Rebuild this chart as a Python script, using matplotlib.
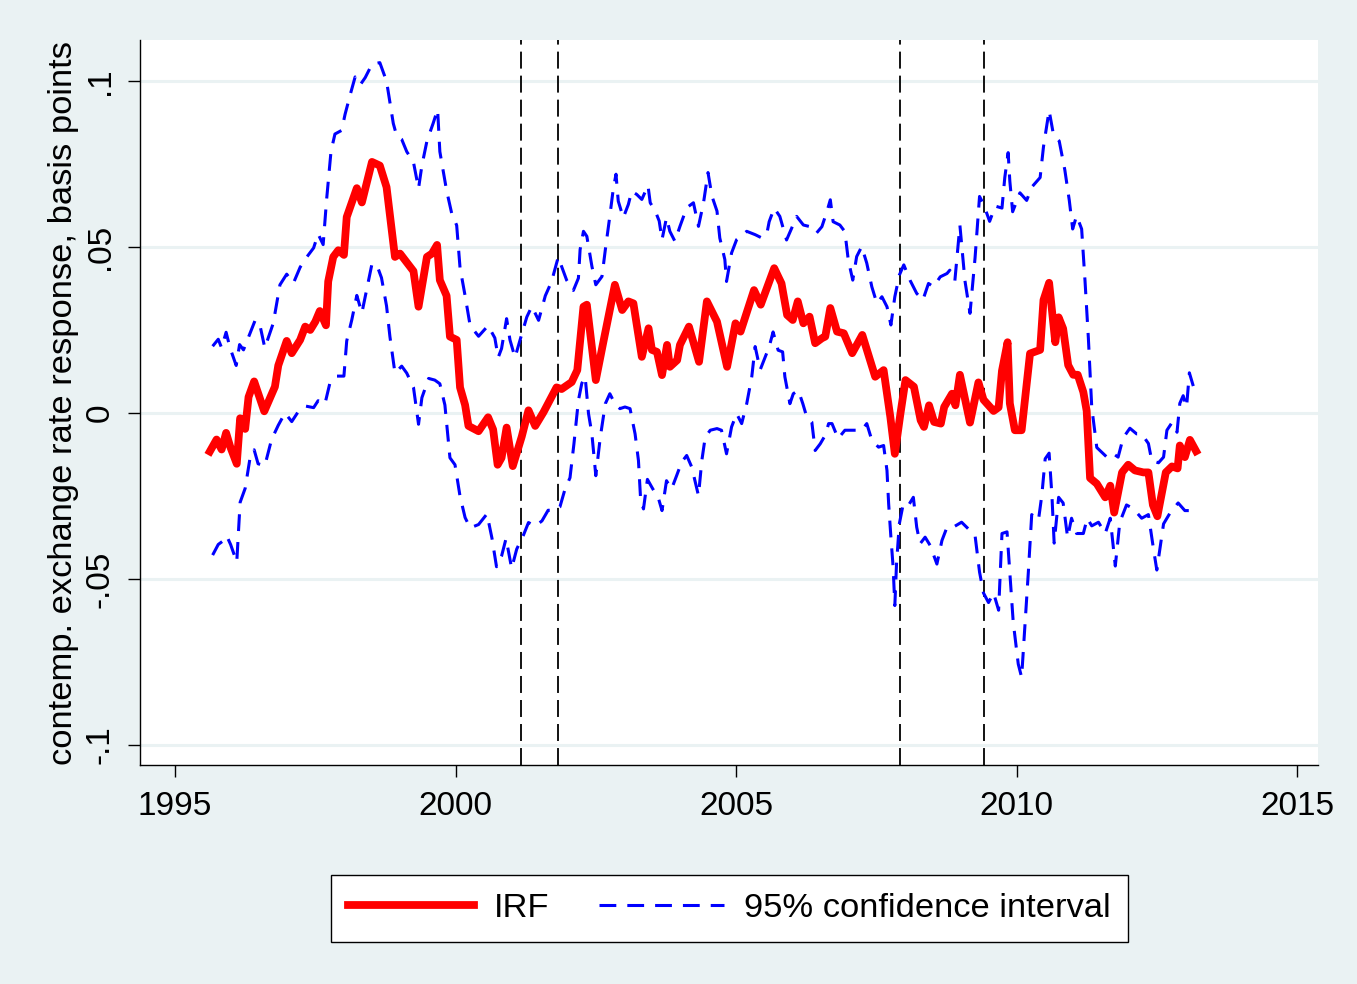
import matplotlib.pyplot as plt

# === Data ===
irf_year = [1995.62, 1995.74, 1995.83, 1995.91, 1995.98, 1996.10, 1996.16, 1996.25, 1996.31, 1996.41,
            1996.59, 1996.78, 1996.84, 1996.99, 1997.08, 1997.23, 1997.32, 1997.41, 1997.50, 1997.58,
            1997.69, 1997.73, 1997.82, 1997.91, 1998.01, 1998.06, 1998.24, 1998.33, 1998.51, 1998.65,
            1998.77, 1998.92, 1999.01, 1999.25, 1999.34, 1999.49, 1999.58, 1999.67, 1999.72, 1999.84,
            1999.90, 2000.02, 2000.08, 2000.17, 2000.23, 2000.41, 2000.58, 2000.67, 2000.75, 2000.82,
            2000.91, 2001.02, 2001.18, 2001.30, 2001.42, 2001.57, 2001.80, 2001.89, 2002.07, 2002.17,
            2002.28, 2002.34, 2002.50, 2002.63, 2002.84, 2002.97, 2003.08, 2003.17, 2003.32, 2003.44,
            2003.50, 2003.59, 2003.68, 2003.77, 2003.82, 2003.95, 2004.00, 2004.16, 2004.34, 2004.48,
            2004.66, 2004.84, 2004.99, 2005.08, 2005.32, 2005.44, 2005.68, 2005.81, 2005.91, 2006.01,
            2006.10, 2006.20, 2006.31, 2006.41, 2006.53, 2006.59, 2006.68, 2006.80, 2006.92, 2007.07,
            2007.25, 2007.48, 2007.63, 2007.75, 2007.83, 2007.93, 2008.02, 2008.17, 2008.29, 2008.35,
            2008.44, 2008.53, 2008.65, 2008.71, 2008.85, 2008.91, 2008.99, 2009.17, 2009.32, 2009.41,
            2009.59, 2009.68, 2009.74, 2009.84, 2009.88, 2009.97, 2010.09, 2010.24, 2010.42, 2010.48,
            2010.58, 2010.69, 2010.75, 2010.83, 2010.92, 2011.01, 2011.09, 2011.19, 2011.25, 2011.31,
            2011.43, 2011.58, 2011.67, 2011.74, 2011.88, 2011.99, 2012.11, 2012.26, 2012.35, 2012.43,
            2012.51, 2012.66, 2012.77, 2012.87, 2012.91, 2013.00, 2013.09, 2013.20]
irf = [-0.0116, -0.008, -0.011, -0.006, -0.010, -0.0153, -0.0016, -0.0048, 0.0048, 0.0095,
       0.0005, 0.0079, 0.0143, 0.0217, 0.018, 0.022, 0.026, 0.025, 0.0275, 0.0307,
       0.0264, 0.0396, 0.047, 0.049, 0.0476, 0.059, 0.0677, 0.0634, 0.0756, 0.0745,
       0.068, 0.047, 0.048, 0.0427, 0.032, 0.047, 0.048, 0.0506, 0.040, 0.0353,
       0.023, 0.022, 0.0077, 0.0024, -0.0039, -0.0055, -0.0013, -0.005, -0.0156, -0.0135,
       -0.0044, -0.016, -0.0071, 0.0008, -0.0039, 0.0003, 0.0077, 0.0072, 0.0093, 0.0129,
       0.032, 0.0326, 0.0099, 0.021, 0.0386, 0.031, 0.0336, 0.033, 0.0169, 0.0255,
       0.019, 0.0184, 0.0114, 0.0205, 0.0139, 0.0159, 0.0205, 0.026, 0.0154, 0.0336,
       0.0275, 0.0139, 0.027, 0.0245, 0.037, 0.0326, 0.0436, 0.039, 0.0295, 0.028,
       0.0336, 0.027, 0.029, 0.021, 0.0225, 0.023, 0.0316, 0.0245, 0.024, 0.018,
       0.0235, 0.0109, 0.0129, -0.0012, -0.0123, -0.0002, 0.0099, 0.0079, -0.0022, -0.0042,
       0.0023, -0.0027, -0.0032, 0.0018, 0.0058, 0.0023, 0.0115, -0.0029, 0.0092, 0.004,
       0.0006, 0.0017, 0.0127, 0.0213, 0.0029, -0.0052, -0.0052, 0.0179, 0.019, 0.034,
       0.0392, 0.0213, 0.0288, 0.0254, 0.0144, 0.0115, 0.0115, 0.0063, 0.0006, -0.0196,
       -0.0213, -0.0254, -0.0219, -0.030, -0.0179, -0.0156, -0.0173, -0.0179, -0.0179, -0.0277,
       -0.0311, -0.0179, -0.0161, -0.0167, -0.0098, -0.0133, -0.0081, -0.0115]

ci_up_year = [1995.67, 1995.77, 1995.83, 1995.91, 1995.98, 1996.09, 1996.15, 1996.22, 1996.32, 1996.43,
              1996.52, 1996.60, 1996.75, 1996.87, 1996.99, 1997.11, 1997.23, 1997.35, 1997.47, 1997.55,
              1997.64, 1997.70, 1997.78, 1997.85, 1997.97, 1998.03, 1998.12, 1998.21, 1998.30, 1998.39,
              1998.51, 1998.65, 1998.77, 1998.89, 1998.95, 1999.04, 1999.13, 1999.25, 1999.34, 1999.40,
              1999.49, 1999.60, 1999.68, 1999.72, 1999.84, 1999.93, 2000.02, 2000.08, 2000.17, 2000.26,
              2000.41, 2000.58, 2000.70, 2000.76, 2000.82, 2000.91, 2000.97, 2001.06, 2001.15, 2001.27,
              2001.36, 2001.48, 2001.60, 2001.71, 2001.83, 2001.98, 2002.10, 2002.19, 2002.22, 2002.28,
              2002.34, 2002.43, 2002.50, 2002.61, 2002.67, 2002.75, 2002.81, 2002.86, 2002.90, 2002.99,
              2003.08, 2003.14, 2003.23, 2003.32, 2003.43, 2003.47, 2003.56, 2003.63, 2003.68, 2003.76,
              2003.82, 2003.91, 2004.00, 2004.12, 2004.24, 2004.33, 2004.42, 2004.50, 2004.57, 2004.66,
              2004.71, 2004.80, 2004.83, 2004.92, 2005.01, 2005.19, 2005.34, 2005.46, 2005.55, 2005.59,
              2005.68, 2005.78, 2005.90, 2005.99, 2006.08, 2006.20, 2006.32, 2006.43, 2006.53, 2006.62,
              2006.68, 2006.73, 2006.85, 2006.94, 2007.00, 2007.08, 2007.15, 2007.24, 2007.33, 2007.42,
              2007.51, 2007.60, 2007.69, 2007.76, 2007.83, 2007.91, 2007.99, 2008.10, 2008.22, 2008.33,
              2008.43, 2008.52, 2008.64, 2008.76, 2008.81, 2008.90, 2008.99, 2009.08, 2009.17, 2009.26,
              2009.34, 2009.41, 2009.52, 2009.62, 2009.74, 2009.79, 2009.85, 2009.88, 2009.93, 2010.06,
              2010.18, 2010.27, 2010.42, 2010.48, 2010.58, 2010.66, 2010.76, 2010.86, 2010.94, 2011.00,
              2011.07, 2011.16, 2011.22, 2011.28, 2011.34, 2011.43, 2011.61, 2011.71, 2011.81, 2011.90,
              2012.02, 2012.14, 2012.23, 2012.35, 2012.41, 2012.53, 2012.62, 2012.68, 2012.77, 2012.86,
              2012.91, 2012.97, 2013.03, 2013.08, 2013.15]
ci_up = [0.0201, 0.0222, 0.0196, 0.0243, 0.0196, 0.0143, 0.0206, 0.019, 0.0233, 0.028,
         0.0259, 0.0196, 0.027, 0.0386, 0.0418, 0.0391, 0.0439, 0.047, 0.0497, 0.0539,
         0.0507, 0.064, 0.0788, 0.084, 0.0851, 0.0899, 0.0957, 0.1012, 0.0988, 0.101,
         0.105, 0.1055, 0.0999, 0.0872, 0.0835, 0.0824, 0.0787, 0.0755, 0.0676, 0.0745,
         0.0819, 0.0872, 0.0914, 0.0787, 0.067, 0.0602, 0.0565, 0.0437, 0.0353, 0.0263,
         0.0231, 0.0263, 0.0226, 0.0167, 0.0194, 0.0284, 0.022, 0.0167, 0.022, 0.0289,
         0.0321, 0.0279, 0.0353, 0.0395, 0.0469, 0.040, 0.0369, 0.0406, 0.0492, 0.0547,
         0.0532, 0.0442, 0.0386, 0.0411, 0.0492, 0.0593, 0.0673, 0.0719, 0.0638, 0.0588,
         0.0628, 0.0668, 0.0658, 0.0643, 0.0685, 0.0633, 0.0608, 0.0578, 0.0522, 0.0588,
         0.0547, 0.0517, 0.0562, 0.0618, 0.0633, 0.0562, 0.0633, 0.0724, 0.0653, 0.0608,
         0.0527, 0.0462, 0.0396, 0.0482, 0.0522, 0.0547, 0.0537, 0.0527, 0.0541, 0.0576,
         0.0617, 0.0592, 0.0521, 0.0556, 0.0592, 0.0566, 0.0561, 0.0541, 0.0561, 0.0607,
         0.0642, 0.0576, 0.0566, 0.0546, 0.0461, 0.040, 0.0471, 0.0501, 0.0451, 0.038,
         0.033, 0.035, 0.032, 0.0265, 0.035, 0.0415, 0.0446, 0.040, 0.036, 0.034,
         0.039, 0.038, 0.041, 0.042, 0.043, 0.0398, 0.0565, 0.0398, 0.030, 0.0467,
         0.0652, 0.0629, 0.0577, 0.0623, 0.0617, 0.0709, 0.0784, 0.0698, 0.0606, 0.0663,
         0.064, 0.068, 0.0709, 0.0802, 0.0911, 0.0836, 0.0819, 0.0732, 0.064, 0.0554,
         0.0594, 0.0554, 0.0398, 0.0225, 0.0017, -0.0104, -0.0133, -0.0121, -0.0133, -0.0075,
         -0.0046, -0.0063, -0.0063, -0.0092, -0.0144, -0.015, -0.0133, -0.0052, -0.0029, -0.0058,
         0.0029, 0.0052, 0.0017, 0.0121, 0.0081]

ci_lo_year = [1995.67, 1995.77, 1995.85, 1995.92, 1995.99, 1996.10, 1996.16, 1996.25, 1996.34, 1996.41,
              1996.48, 1996.60, 1996.72, 1996.84, 1996.96, 1997.08, 1997.20, 1997.32, 1997.47, 1997.55,
              1997.67, 1997.76, 1997.88, 1998.01, 1998.06, 1998.15, 1998.24, 1998.33, 1998.42, 1998.51,
              1998.60, 1998.68, 1998.77, 1998.83, 1998.92, 1999.04, 1999.13, 1999.25, 1999.34, 1999.40,
              1999.52, 1999.63, 1999.72, 1999.81, 1999.90, 1999.99, 2000.08, 2000.17, 2000.26, 2000.41,
              2000.56, 2000.65, 2000.73, 2000.82, 2000.90, 2001.00, 2001.09, 2001.21, 2001.30, 2001.42,
              2001.54, 2001.65, 2001.77, 2001.86, 2001.95, 2002.04, 2002.11, 2002.19, 2002.25, 2002.31,
              2002.37, 2002.43, 2002.50, 2002.58, 2002.67, 2002.75, 2002.84, 2002.93, 2003.02, 2003.11,
              2003.20, 2003.26, 2003.30, 2003.35, 2003.42, 2003.50, 2003.62, 2003.68, 2003.76, 2003.85,
              2003.94, 2004.03, 2004.12, 2004.21, 2004.33, 2004.39, 2004.45, 2004.54, 2004.66, 2004.74,
              2004.83, 2004.92, 2005.01, 2005.10, 2005.19, 2005.28, 2005.34, 2005.43, 2005.52, 2005.59,
              2005.66, 2005.75, 2005.83, 2005.87, 2005.96, 2006.02, 2006.11, 2006.19, 2006.26, 2006.35,
              2006.41, 2006.50, 2006.59, 2006.65, 2006.71, 2006.82, 2006.94, 2007.12, 2007.24, 2007.33,
              2007.42, 2007.54, 2007.63, 2007.69, 2007.72, 2007.76, 2007.80, 2007.83, 2007.86, 2007.91,
              2007.98, 2008.07, 2008.16, 2008.22, 2008.28, 2008.37, 2008.46, 2008.58, 2008.67, 2008.76,
              2008.87, 2009.02, 2009.26, 2009.34, 2009.41, 2009.50, 2009.59, 2009.68, 2009.74, 2009.83,
              2009.88, 2009.94, 2010.03, 2010.09, 2010.15, 2010.21, 2010.27, 2010.39, 2010.45, 2010.51,
              2010.58, 2010.63, 2010.67, 2010.75, 2010.83, 2010.91, 2010.98, 2011.07, 2011.19, 2011.26,
              2011.34, 2011.46, 2011.58, 2011.67, 2011.76, 2011.84, 2011.96, 2012.08, 2012.23, 2012.35,
              2012.44, 2012.50, 2012.62, 2012.74, 2012.88, 2013.00, 2013.15]
ci_lo = [-0.0428, -0.0396, -0.0386, -0.037, -0.0396, -0.0449, -0.0269, -0.0227, -0.0132, -0.0111,
         -0.0153, -0.0159, -0.008, -0.0037, 0.0, -0.0026, 0.0005, 0.0021, 0.0016, 0.0037,
         0.0026, 0.009, 0.0111, 0.0111, 0.0217, 0.028, 0.0354, 0.0301, 0.0375, 0.0449,
         0.0444, 0.0407, 0.0322, 0.023, 0.012, 0.0141, 0.012, 0.0077, -0.0034, 0.0046,
         0.0104, 0.0099, 0.0088, 0.0024, -0.0135, -0.0156, -0.0251, -0.0315, -0.0346, -0.0336,
         -0.0304, -0.0378, -0.0463, -0.0431, -0.0378, -0.0468, -0.041, -0.0368, -0.033, -0.0341,
         -0.0325, -0.0293, -0.0293, -0.0283, -0.023, -0.0195, -0.0093, 0.0038, 0.0089, 0.0109,
         -0.0002, -0.0063, -0.0189, -0.0073, 0.0028, 0.0058, 0.0028, 0.0013, 0.0018, 0.0013,
         -0.0063, -0.0143, -0.0264, -0.0289, -0.020, -0.0224, -0.0259, -0.0294, -0.0204, -0.0229,
         -0.0189, -0.0148, -0.0128, -0.0163, -0.0249, -0.0143, -0.0073, -0.0052, -0.0047, -0.0052,
         -0.0123, -0.0042, -0.0002, -0.0032, 0.0028, 0.0109, 0.020, 0.013, 0.0169, 0.0199,
         0.0244, 0.0189, 0.0184, 0.0109, 0.0028, 0.0058, 0.0068, 0.0028, -0.0012, -0.0027,
         -0.0113, -0.0093, -0.0067, -0.0032, -0.0032, -0.0077, -0.0052, -0.0052, -0.0052, -0.0032,
         -0.0082, -0.0103, -0.0098, -0.0173, -0.0274, -0.0374, -0.0465, -0.058, -0.0455, -0.0334,
         -0.0274, -0.0279, -0.0254, -0.0344, -0.0394, -0.0374, -0.0399, -0.0455, -0.0384, -0.0344,
         -0.0344, -0.0329, -0.0369, -0.0479, -0.0542, -0.0571, -0.0542, -0.0594, -0.0363, -0.0358,
         -0.0479, -0.0629, -0.0756, -0.0796, -0.064, -0.0479, -0.0306, -0.0323, -0.0248, -0.0138,
         -0.0121, -0.0248, -0.0392, -0.0254, -0.0271, -0.0375, -0.0317, -0.0363, -0.0363, -0.0317,
         -0.034, -0.0329, -0.0363, -0.0317, -0.0461, -0.0329, -0.0277, -0.0288, -0.0317, -0.0306,
         -0.0409, -0.0473, -0.0334, -0.030, -0.0271, -0.0294, -0.0294]

# NBER recession start/end dates (2001m3, 2001m11, 2007m12, 2009m6)
recession_lines = [2001.17, 2001.83, 2007.92, 2009.42]

x_ticks = [1995, 2000, 2005, 2010, 2015]
y_ticks = [-0.1, -0.05, 0, 0.05, 0.1]
y_tick_labels = ['-.1', '-.05', '0', '.05', '.1']

# === Style ===
bg = '#EAF2F3'
plt.rcParams['font.family'] = ['Liberation Sans', 'DejaVu Sans']
plt.rcParams['font.size'] = 24

fig = plt.figure(figsize=(13.57, 9.84), dpi=100, facecolor=bg)
ax = fig.add_axes([0.1032, 0.2226, 0.8681, 0.7367])
ax.set_facecolor('white')

# gridlines
for yt in y_ticks:
    ax.axhline(yt, color=bg, lw=2.2, zorder=0)

for xr in recession_lines:
    ax.axvline(xr, color='black', lw=1.3, dashes=(9.4, 3.9), zorder=1)

ax.plot(ci_up_year, ci_up, color='#0000FF', lw=2.2, dashes=(5.5, 3.6), zorder=2,
        label='95% confidence interval')
ax.plot(ci_lo_year, ci_lo, color='#0000FF', lw=2.2, dashes=(5.5, 3.6), zorder=2)
ax.plot(irf_year, irf, color='#FF0000', lw=5.6, zorder=3, label='IRF',
        solid_joinstyle='round')

ax.set_xlim(1994.376, 2015.374)
ax.set_ylim(-0.106, 0.1123)
ax.set_xticks(x_ticks)
ax.set_yticks(y_ticks)
ax.set_yticklabels(y_tick_labels, rotation=90, va='center')
ax.tick_params(axis='both', direction='out', length=8.5, width=1.0, color='black')
ax.tick_params(axis='x', pad=10)
ax.tick_params(axis='y', pad=9)

for side in ['top', 'right']:
    ax.spines[side].set_visible(False)
for side in ['left', 'bottom']:
    ax.spines[side].set_linewidth(1.0)
    ax.spines[side].set_color('black')

ax.set_ylabel('contemp. exchange rate response, basis points', fontsize=24.8, labelpad=4)

handles, labels = ax.get_legend_handles_labels()
leg = fig.legend([handles[1], handles[0]], [labels[1], labels[0]],
                 loc='center', bbox_to_anchor=(0.5376, 0.0772), ncol=2,
                 frameon=True, fancybox=False, edgecolor='black', framealpha=1,
                 handlelength=3.63, handletextpad=0.58, columnspacing=1.45,
                 borderpad=0.52, fontsize=24.8)
leg.get_frame().set_linewidth(1.0)
leg.get_frame().set_facecolor('white')

fig.savefig('out.png', dpi=100, facecolor=bg)
